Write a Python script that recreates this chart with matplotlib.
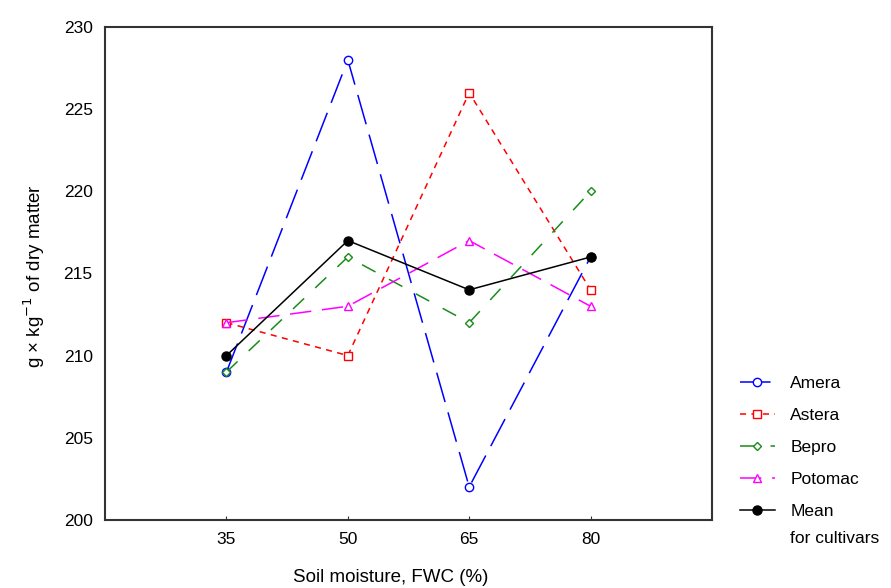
import matplotlib.pyplot as plt
import numpy as np

plt.rcParams['font.family'] = ['Liberation Sans', 'DejaVu Sans']

moisture = [35, 50, 65, 80]
amera = [209, 228, 202, 216]
astera = [212, 210, 226, 214]
bepro = [209, 216, 212, 220]
potomac = [212, 213, 217, 213]
mean_cv = [210, 217, 214, 216]

fig = plt.figure(figsize=(8.91, 5.88), dpi=100)
ax = fig.add_axes([0.118, 0.116, 0.681, 0.838])

ax.plot(moisture, amera, color='#0000ff', lw=1.1, dashes=(20, 7),
        marker='o', ms=6, mfc='white', mec='#0000ff', label='Amera')
ax.plot(moisture, astera, color='#ff0000', lw=1.1, dashes=(4, 3.5),
        marker='s', ms=6, mfc='white', mec='#ff0000', label='Astera')
ax.plot(moisture, bepro, color='#1a8c1a', lw=1.1, dashes=(10, 10),
        marker='D', ms=4.5, mfc='white', mec='#1a8c1a', label='Bepro')
ax.plot(moisture, potomac, color='#ff00ff', lw=1.1, dashes=(14, 7),
        marker='^', ms=6, mfc='white', mec='#ff00ff', label='Potomac')
ax.plot(moisture, mean_cv, color='black', lw=1.1,
        marker='o', ms=6.5, mfc='black', mec='black', label='Mean')

ax.set_xlim(20, 95)
ax.set_ylim(200, 230)
ax.set_xticks(moisture)
ax.set_yticks(np.arange(200, 231, 5))
ax.tick_params(direction='in', length=3, labelsize=12.5, color='#333333')
ax.tick_params(axis='y', length=0, pad=9)
ax.tick_params(axis='x', pad=9)
for s in ax.spines.values():
    s.set_linewidth(1.5)
    s.set_color('#333333')

fig.text(0.438, 0.003, 'Soil moisture, FWC (%)', ha='center', va='bottom', fontsize=13.5)
fig.text(0.039, 0.53, 'g × kg$^{-1}$ of dry matter', rotation=90,
         ha='center', va='center', fontsize=13.5)

leg = fig.legend(loc='upper left', bbox_to_anchor=(0.813, 0.388), frameon=False,
                 fontsize=12.5, handlelength=2.0, labelspacing=0.98, handletextpad=0.9)

# second line of the "Mean" entry, aligned with the legend text
fig.canvas.draw()
bb = leg.get_texts()[-1].get_window_extent().transformed(fig.transFigure.inverted())
fig.text(bb.x0, bb.y0 - 0.045, 'for cultivars', fontsize=12.5, ha='left', va='bottom')

fig.savefig('out.png', dpi=100)
